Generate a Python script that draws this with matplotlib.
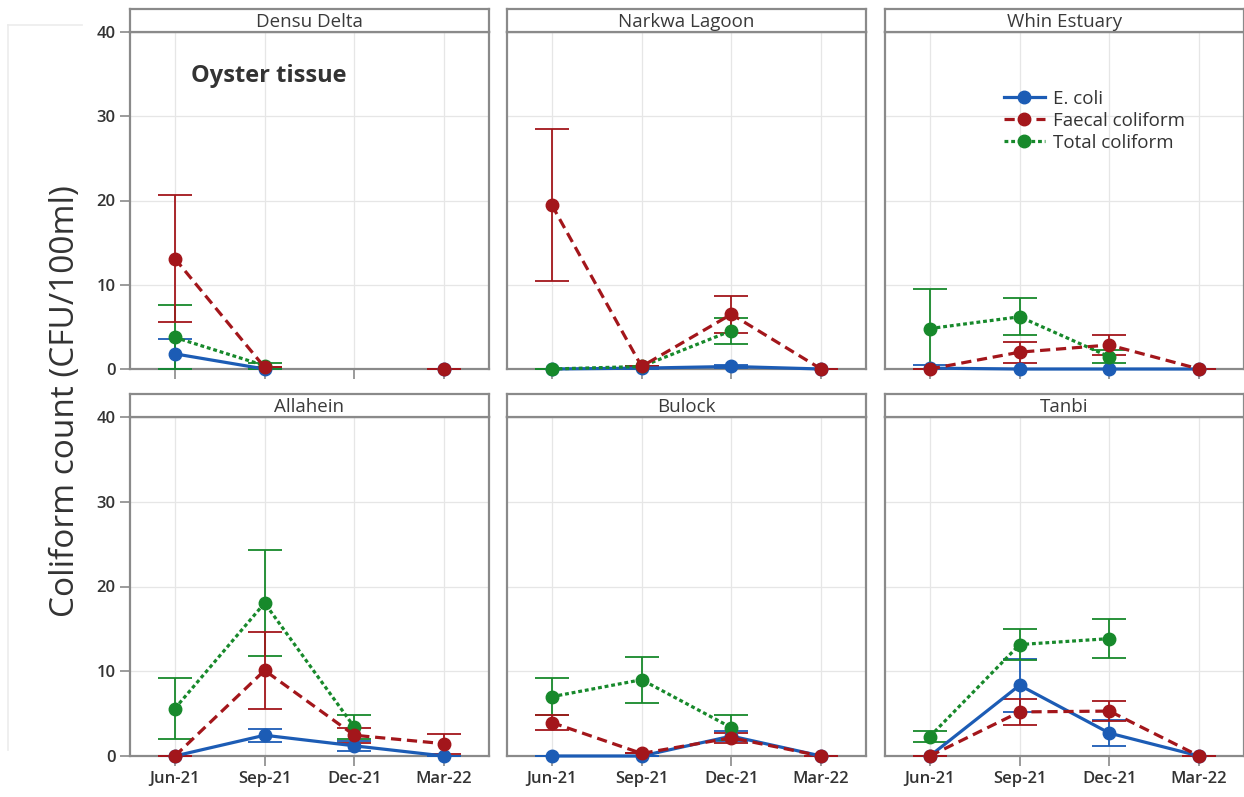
import numpy as np
import matplotlib
matplotlib.use("Agg")
import matplotlib.pyplot as plt
from matplotlib.lines import Line2D

plt.rcParams["font.family"] = ["Open Sans", "DejaVu Sans"]

months = ["Jun-21", "Sep-21", "Dec-21", "Mar-22"]
sites = ["Densu Delta", "Narkwa Lagoon", "Whin Estuary", "Allahein", "Bulock", "Tanbi"]
nan = np.nan

# mean counts per site, one row per site, columns follow `months`
ecoli_mean = [
    [1.8, 0.0, nan, 0.0],
    [0.0, 0.1, 0.3, 0.0],
    [0.1, 0.0, 0.0, 0.0],
    [0.0, 2.45, 1.2, 0.0],
    [0.0, 0.0, 2.35, 0.0],
    [0.0, 8.35, 2.7, 0.0],
]
ecoli_err = [
    [1.75, 0.0, nan, 0.0],
    [0.0, 0.1, 0.2, 0.0],
    [0.4, 0.0, 0.0, 0.0],
    [0.0, 0.75, 0.6, 0.0],
    [0.0, 0.0, 0.6, 0.0],
    [0.0, 3.1, 1.5, 0.0],
]
faecal_mean = [
    [13.1, 0.2, nan, 0.0],
    [19.45, 0.3, 6.5, 0.0],
    [0.0, 2.0, 2.85, 0.0],
    [0.0, 10.1, 2.45, 1.45],
    [3.95, 0.3, 2.15, 0.0],
    [0.0, 5.2, 5.3, 0.0],
]
faecal_err = [
    [7.5, 0.0, nan, 0.0],
    [9.0, 0.0, 2.2, 0.0],
    [0.0, 1.25, 1.2, 0.0],
    [0.0, 4.5, 0.9, 1.2],
    [0.85, 0.0, 0.6, 0.0],
    [0.0, 1.5, 1.15, 0.0],
]
total_mean = [
    [3.75, 0.4, nan, nan],
    [0.0, 0.3, 4.55, nan],
    [4.8, 6.2, 1.45, nan],
    [5.6, 18.05, 3.4, nan],
    [7.0, 9.0, 3.35, nan],
    [2.3, 13.15, 13.85, nan],
]
total_err = [
    [3.8, 0.35, nan, nan],
    [0.0, 0.0, 1.55, nan],
    [4.75, 2.2, 0.75, nan],
    [3.6, 6.2, 1.4, nan],
    [2.15, 2.7, 1.5, nan],
    [0.6, 1.8, 2.3, nan],
]

blue, red, green = "#1c5cb5", "#a3161b", "#17892b"
dash_faecal = (0, (3.2, 1.8))
dash_total = (0, (1.2, 0.9))

series = [
    ("E. coli", ecoli_mean, ecoli_err, blue, "-"),
    ("Total coliform", total_mean, total_err, green, dash_total),
    ("Faecal coliform", faecal_mean, faecal_err, red, dash_faecal),
]

W, H = 1244, 797
fig = plt.figure(figsize=(W / 100, H / 100), dpi=100)

frame_col = "#8a8a8a"
text_col = "#333333"

col_left = [130, 507, 885]
panel_w = 359
rows = [(32, 369), (417, 756)]
strip_h = 23

x = np.arange(len(months))
axes = []
for i, site in enumerate(sites):
    r, c = divmod(i, 3)
    top, bottom = rows[r]
    left = col_left[c]
    ax = fig.add_axes([left / W, 1 - bottom / H, panel_w / W, (bottom - top) / H])
    axes.append(ax)

    # strip header above the panel
    sax = fig.add_axes([left / W, 1 - top / H, panel_w / W, strip_h / H])
    sax.set_xticks([])
    sax.set_yticks([])
    for sp in sax.spines.values():
        sp.set_color(frame_col)
        sp.set_linewidth(1.6)
    sax.text(0.5, 0.42, site, ha="center", va="center", fontsize=13.5,
             color="#3a3a3a", transform=sax.transAxes)

    for name, mean, err, color, ls in series:
        m = np.array(mean[i], dtype=float)
        e = np.array(err[i], dtype=float)
        ax.errorbar(x, m, yerr=e, color=color, ecolor=color, elinewidth=1.3,
                    capsize=12, capthick=1.3, fmt="none", zorder=3)
        ax.plot(x, m, color=color, linestyle=ls, linewidth=2.3,
                marker="o", markersize=9, zorder=4, clip_on=False)

    ax.set_xlim(-0.5, 3.5)
    ax.set_ylim(0, 40)
    ax.set_xticks(x)
    ax.set_yticks([0, 10, 20, 30, 40])
    ax.grid(True, color="#e6e6e6", linewidth=0.9)
    ax.set_axisbelow(True)
    for sp in ax.spines.values():
        sp.set_color(frame_col)
        sp.set_linewidth(1.6)
    ax.tick_params(axis="both", length=7, width=1.2, color=frame_col,
                   labelsize=12, labelcolor=text_col)
    if c == 0:
        for lab in ax.get_yticklabels():
            lab.set_fontweight("semibold")
    else:
        ax.tick_params(axis="y", labelleft=False, length=0)
    if r == 1:
        ax.set_xticklabels(months, fontweight="semibold")
    else:
        ax.tick_params(axis="x", labelbottom=False)

axes[0].text(0.17, 0.87, "Oyster tissue", transform=axes[0].transAxes,
             fontsize=17, fontweight="bold", color=text_col, ha="left", va="center")

handles = [
    Line2D([], [], color=blue, linestyle="-", linewidth=2.3, marker="o", markersize=9),
    Line2D([], [], color=red, linestyle=dash_faecal, linewidth=2.3, marker="o", markersize=9),
    Line2D([], [], color=green, linestyle=dash_total, linewidth=2.3, marker="o", markersize=9),
]
leg = axes[2].legend(handles, ["E. coli", "Faecal coliform", "Total coliform"],
                     loc="upper left", bbox_to_anchor=(0.31, 0.85), frameon=False,
                     fontsize=13.5, handlelength=2.2, labelspacing=0.2,
                     handletextpad=0.45, borderaxespad=0)
for t in leg.get_texts():
    t.set_color(text_col)

fig.text(66 / W, 1 - 401 / H, "Coliform count (CFU/100ml)", rotation=90,
         ha="center", va="center", fontsize=24, color=text_col)

# faint outer border line along the left edge
fig.add_artist(Line2D([8 / W, 8 / W], [1 - 25 / H, 1 - 750 / H],
                      color="#ececec", linewidth=1.2))
fig.add_artist(Line2D([8 / W, 82 / W], [1 - 25 / H, 1 - 25 / H],
                      color="#ececec", linewidth=1.2))

fig.savefig("out.png", dpi=100)
